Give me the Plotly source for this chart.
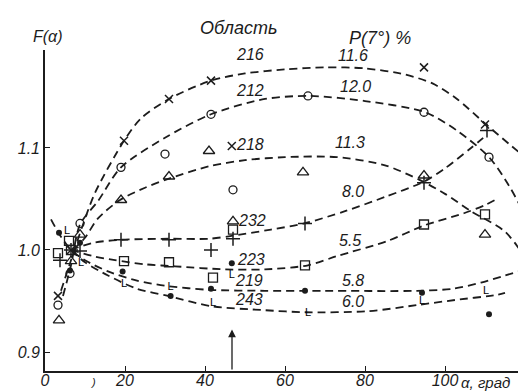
import plotly.graph_objects as go

# ---------------- data ----------------
regions = ["216", "212", "218", "232", "223", "219", "243"]
p_values = ["11.6", "12.0", "11.3", "8.0", "5.5", "5.8", "6.0"]

# measured points
pts_216_x = [3.25, 6.5, 19.75, 31, 41.5, 46.7, 94.75, 110, 121]
pts_216_y = [0.955, 1.0, 1.107, 1.148, 1.166, 1.102, 1.179, 1.123, 1.093]
pts_212_x = [3.25, 6.25, 8.75, 19, 30, 41.5, 47, 65.75, 94.75, 111, 120.5]
pts_212_y = [0.946, 0.977, 1.026, 1.081, 1.094, 1.133, 1.059, 1.151, 1.135, 1.091, 1.027]
pts_218_x = [3.5, 6.5, 8.75, 19, 31, 41, 47, 64.5, 94.75, 110, 120.5]
pts_218_y = [0.931, 0.989, 1.015, 1.049, 1.072, 1.097, 1.028, 1.076, 1.073, 1.015, 1.016]
pts_232_x = [3.75, 6.5, 8.75, 19, 31, 41.5, 47, 65, 94.75, 110.5, 121]
pts_232_y = [0.99, 1.0, 0.999, 1.01, 1.01, 1.0, 1.011, 1.026, 1.066, 1.117, 1.093]
pts_223_x = [3.25, 6, 6.5, 19.75, 31, 42, 47, 65, 94.75, 110]
pts_223_y = [0.997, 1.009, 1.0, 0.989, 0.988, 0.973, 1.02, 0.985, 1.025, 1.035]
pts_219_x = [3.5, 6.25, 8.75, 19.4, 31.4, 41.5, 46.7, 65, 94.25, 111, 120.7]
pts_219_y = [1.017, 0.98, 1.007, 0.979, 0.955, 0.962, 0.987, 0.96, 0.958, 0.937, 0.986]
pts_243_x = [5.5, 9, 19.75, 31.4, 42, 46.7, 65.75, 94.25, 110.25]
pts_243_y = [1.018, 0.987, 0.966, 0.963, 0.948, 0.975, 0.938, 0.95, 0.96]

# hand-drawn fitted curves
fit_216_x = [4, 6.5, 9.5, 12.5, 19.75, 24, 31, 41.5, 50, 60, 70, 80, 90, 97, 103, 110, 116, 121, 123]
fit_216_y = [0.96, 0.99, 1.025, 1.056, 1.107, 1.129, 1.148, 1.166, 1.173, 1.177, 1.179, 1.178, 1.172, 1.163, 1.148, 1.124, 1.104, 1.088, 1.082]
fit_212_x = [4.5, 6.5, 8.75, 13.25, 19, 30, 41.5, 55, 66, 80, 95, 103, 111, 116, 120.5, 123]
fit_212_y = [0.955, 0.985, 1.025, 1.048, 1.081, 1.11, 1.133, 1.148, 1.151, 1.146, 1.135, 1.117, 1.091, 1.063, 1.03, 1.008]
fit_218_x = [7, 10, 13.25, 18.75, 25, 31, 41, 50, 60, 73, 85, 94, 100, 106.5, 115, 120.5]
fit_218_y = [1.0, 1.012, 1.031, 1.049, 1.061, 1.07, 1.082, 1.088, 1.091, 1.091, 1.083, 1.068, 1.055, 1.038, 1.018, 0.99]
fit_232_x = [6.5, 12, 19, 31, 41, 47, 56.5, 64.75, 75, 85, 94.75, 100, 106.5, 110.5]
fit_232_y = [1.0, 1.007, 1.01, 1.011, 1.011, 1.014, 1.02, 1.026, 1.038, 1.052, 1.067, 1.08, 1.1, 1.113]
fit_223_x = [6.5, 12, 17.5, 25, 32.5, 45, 55, 65.75, 73, 85.75, 94.75, 104.75, 110, 113]
fit_223_y = [1.0, 0.994, 0.99, 0.986, 0.984, 0.981, 0.981, 0.985, 0.994, 1.009, 1.024, 1.036, 1.044, 1.05]
fit_219_x = [1.5, 3.5, 6.5, 10, 15.75, 23, 30, 40.75, 55, 70, 93, 102, 109, 115, 120.75, 123]
fit_219_y = [1.03, 1.016, 1.0, 0.99, 0.979, 0.97, 0.965, 0.961, 0.96, 0.96, 0.96, 0.962, 0.968, 0.975, 0.982, 0.986]
fit_243_x = [6.5, 10, 15.75, 23, 30.75, 41.5, 55, 65, 80.75, 93, 102.5, 113, 115]
fit_243_y = [1.0, 0.988, 0.975, 0.962, 0.955, 0.945, 0.941, 0.939, 0.94, 0.946, 0.951, 0.956, 0.958]

x_ticks = [0, 20, 40, 60, 80, 100]
y_ticks = [0.9, 1.0, 1.1]
ARROW_X = 46.75
ARROW_TOP = 0.922

# ---------------- figure ----------------
INK = "#1c1c1c"
FONT = "Liberation Sans"
DASH = "8px,5px"

fig = go.Figure()

fits = [(fit_216_x, fit_216_y), (fit_212_x, fit_212_y), (fit_218_x, fit_218_y),
        (fit_232_x, fit_232_y), (fit_223_x, fit_223_y), (fit_219_x, fit_219_y),
        (fit_243_x, fit_243_y)]
for fx, fy in fits:
    fig.add_trace(go.Scatter(x=fx, y=fy, mode="lines",
                             line=dict(color=INK, width=1.8, dash=DASH,
                                       shape="spline", smoothing=0.8),
                             hoverinfo="skip", showlegend=False))

def add_pts(px, py, symbol, size, lw=1.3):
    fig.add_trace(go.Scatter(x=px, y=py, mode="markers",
                             marker=dict(symbol=symbol, size=size, color=INK,
                                         line=dict(color=INK, width=lw)),
                             showlegend=False, cliponaxis=False))

add_pts(pts_216_x, pts_216_y, "x-thin", 8, 1.5)
add_pts(pts_212_x, pts_212_y, "circle-open", 8)
add_pts(pts_218_x, pts_218_y, "triangle-up-open", 10)
add_pts(pts_232_x, pts_232_y, "cross-thin", 10, 1.5)
add_pts(pts_223_x, pts_223_y, "square-open", 9)
add_pts(pts_219_x, pts_219_y, "circle", 6, 0)
fig.add_trace(go.Scatter(x=pts_243_x, y=pts_243_y, mode="text", text=["L"] * len(pts_243_x),
                         textfont=dict(family=FONT, size=11, color="#000000"),
                         showlegend=False, cliponaxis=False))

ann = []
def text(x, y, s, size=16, ref="data", xanchor="center"):
    d = dict(x=x, y=y, text=s, showarrow=False, xanchor=xanchor, yanchor="middle",
             font=dict(family=FONT, size=size, color=INK, style="italic"))
    if ref == "data":
        d.update(xref="x", yref="y")
    else:
        d.update(xref="paper", yref="paper")
    ann.append(d)

region_pos_x = [51.25, 51.25, 51.25, 51.75, 51.5, 51, 51]
region_pos_y = [1.192, 1.156, 1.103, 1.029, 0.991, 0.970, 0.951]
p_pos_x = [77, 77.5, 76.25, 77, 76.25, 77, 77]
p_pos_y = [1.191, 1.160, 1.105, 1.057, 1.009, 0.970, 0.950]
for r, xx, yy in zip(regions, region_pos_x, region_pos_y):
    text(xx, yy, r, 16)
for p, xx, yy in zip(p_values, p_pos_x, p_pos_y):
    text(xx, yy, p, 16)

text(0.3947, 1.0685, "Область", 18, ref="paper")
text(0.685, 1.0374, "P(7°) %", 18, ref="paper")
text(0.0061, 1.0405, "F(α)", 16, ref="paper")
text(0.9, -0.035, "α, град", 15, ref="paper")
text(0.098, -0.035, ")", 11, ref="paper")

ann.append(dict(x=ARROW_X, y=ARROW_TOP, ax=ARROW_X, ay=0.8814, xref="x", yref="y",
                axref="x", ayref="y", showarrow=True, arrowhead=2, arrowsize=1.2,
                arrowwidth=1.3, arrowcolor=INK, text=""))

fig.update_layout(
    width=526, height=391,
    margin=dict(l=37, r=0, t=42, b=28),
    paper_bgcolor="white", plot_bgcolor="white",
    annotations=ann,
    showlegend=False,
    xaxis=dict(range=[0, 122.25], tickvals=x_ticks, ticktext=[str(v) for v in x_ticks],
               ticks="inside", ticklen=5, tickcolor=INK, tickwidth=1.3,
               showline=True, linecolor=INK, linewidth=1.6, showgrid=False, zeroline=False,
               ticklabelstandoff=-6,
               tickfont=dict(family=FONT, size=16, color=INK, style="italic")),
    yaxis=dict(range=[0.8814, 1.196], tickvals=y_ticks, ticktext=["0.9", "1.0", "1.1"],
               ticks="inside", ticklen=5, tickcolor=INK, tickwidth=1.3,
               showline=True, linecolor=INK, linewidth=1.6, showgrid=False, zeroline=False,
               tickfont=dict(family=FONT, size=16, color=INK, style="italic")),
)

fig.write_html("out.html")
